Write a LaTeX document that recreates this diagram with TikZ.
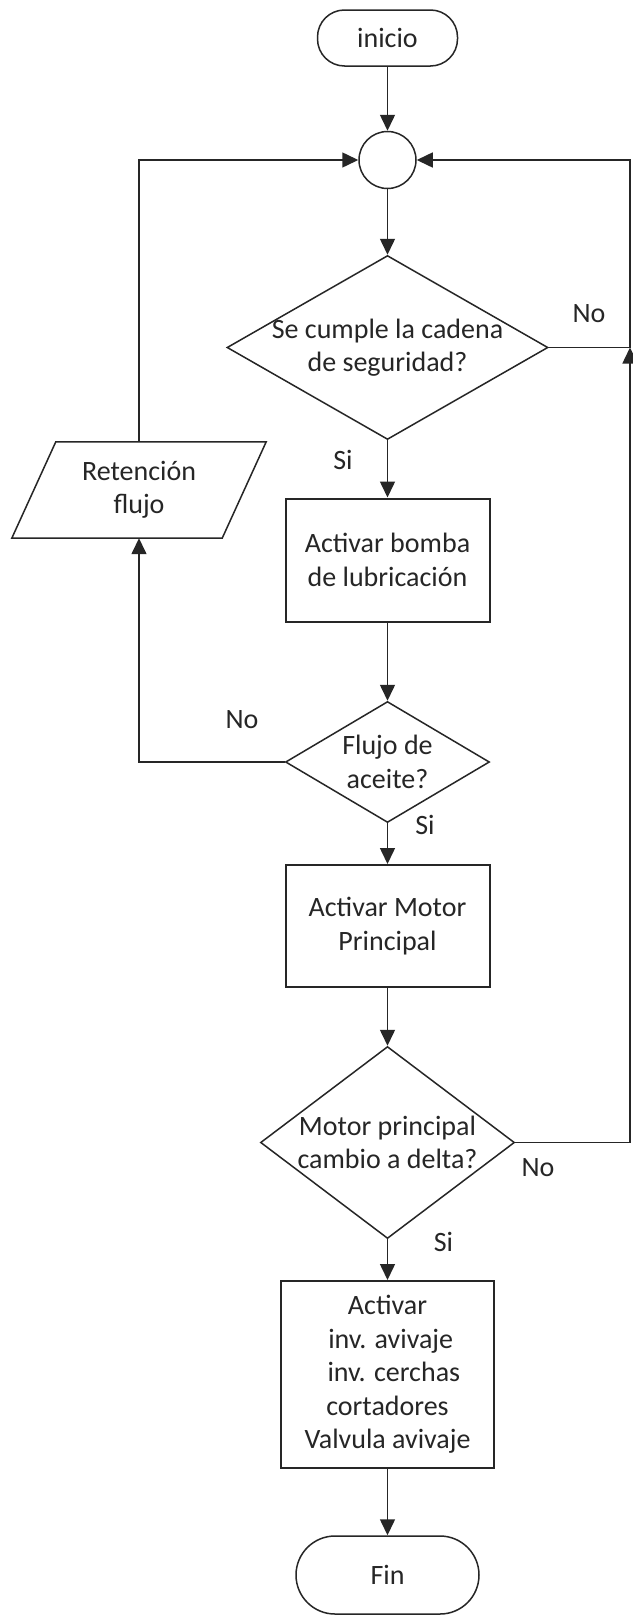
\documentclass[tikz,border=0pt]{standalone}
\usepackage{fontspec}
\setmainfont{Carlito}
\usetikzlibrary{arrows.meta,shapes.geometric}

\begin{document}
\begin{tikzpicture}[x=1pt,y=-1pt,
  every node/.style={font=\fontsize{28}{33.5}\selectfont, text=black!85},
  line/.style={line width=1.5pt, draw=black!85},
  arr/.style={line, -{Triangle[length=16pt,width=15pt]}},
  proc/.style={draw=black!85, line width=2pt, rectangle, align=center, inner sep=0pt, fill=white},
  term/.style={draw=black!85, line width=1.5pt, rectangle, inner sep=0pt, fill=white},
  dec/.style={draw=black!85, line width=1.5pt, diamond, inner sep=0pt, fill=white},
  lbl/.style={align=center, inner sep=0pt},
  io/.style={rectangle, align=center, inner sep=0pt}
]
\fill[white] (0,0) rectangle (632,1617);
\useasboundingbox (0,0) rectangle (632,1617);

% main column
\node[term, rounded corners=27pt, minimum width=140pt, minimum height=56pt] (inicio) at (387.5,38) {inicio};
\node[draw=black!85, line width=1.5pt, circle, minimum size=57pt, inner sep=0pt] (circ) at (387.5,160) {};
\node[dec, minimum width=321pt, minimum height=184pt,
  label={[lbl]center:{Se cumple la cadena\\de seguridad?}}] (d1) at (387.5,347.5) {};
\node[proc, minimum width=204pt, minimum height=123pt] (r1) at (387.5,560) {Activar bomba\\de lubricación};
\node[dec, minimum width=204pt, minimum height=121pt,
  label={[lbl]center:{Flujo de\\aceite?}}] (d2) at (387.5,762) {};
\node[proc, minimum width=204pt, minimum height=122pt] (r2) at (387.5,926) {Activar Motor\\Principal};
\node[dec, minimum width=254pt, minimum height=192pt,
  label={[lbl]center:{Motor principal\\cambio a delta?}}] (d3) at (387.5,1142.5) {};
\node[proc, minimum width=213pt, minimum height=187pt] (r3) at (387.5,1374.5)
  {Activar\\\ inv. avivaje\\\ \ inv. cerchas\\cortadores\\Valvula avivaje};
\node[term, rounded corners=39pt, minimum width=183pt, minimum height=78pt] (fin) at (387.5,1575) {Fin};

% side block: slanted input/output box around its text node
\node[io, minimum width=210pt, minimum height=96pt] (ret) at (139,490) {Retención\\flujo};
\draw[line] ([xshift=-22pt]ret.south west) -- ([xshift=-22pt]ret.south east)
  -- ([xshift=22pt]ret.north east) -- ([xshift=22pt]ret.north west) -- cycle;

% junction on the right return line
\coordinate (jn) at (630,347.5);

% straight flow
\draw[arr] (inicio.south) -- (circ.north);
\draw[arr] (circ.south) -- (d1.north);
\draw[arr] (d1.south) -- (r1.north);
\draw[arr] (r1.south) -- (d2.north);
\draw[arr] (d2.south) -- (r2.north);
\draw[arr] (r2.south) -- (d3.north);
\draw[arr] (d3.south) -- (r3.north);
\draw[arr] (r3.south) -- (fin.north);

% loops
\draw[arr] (d2.west) -| (ret.south);
\draw[arr] (ret.north) |- (circ.west);
\draw[line] (d1.east) -- (jn);
\draw[arr] (jn) |- (circ.east);
\draw[arr] (d3.east) -| (jn);

% branch labels
\node[lbl] (si1) at (343,460) {Si};
\node[lbl] (no1) at (589,314) {No};
\node[lbl] (no2) at (242,720) {No};
\node[lbl] (si2) at (425,825) {Si};
\node[lbl] (no3) at (538,1168) {No};
\node[lbl] (si3) at (443.5,1242) {Si};
\end{tikzpicture}
\end{document}
